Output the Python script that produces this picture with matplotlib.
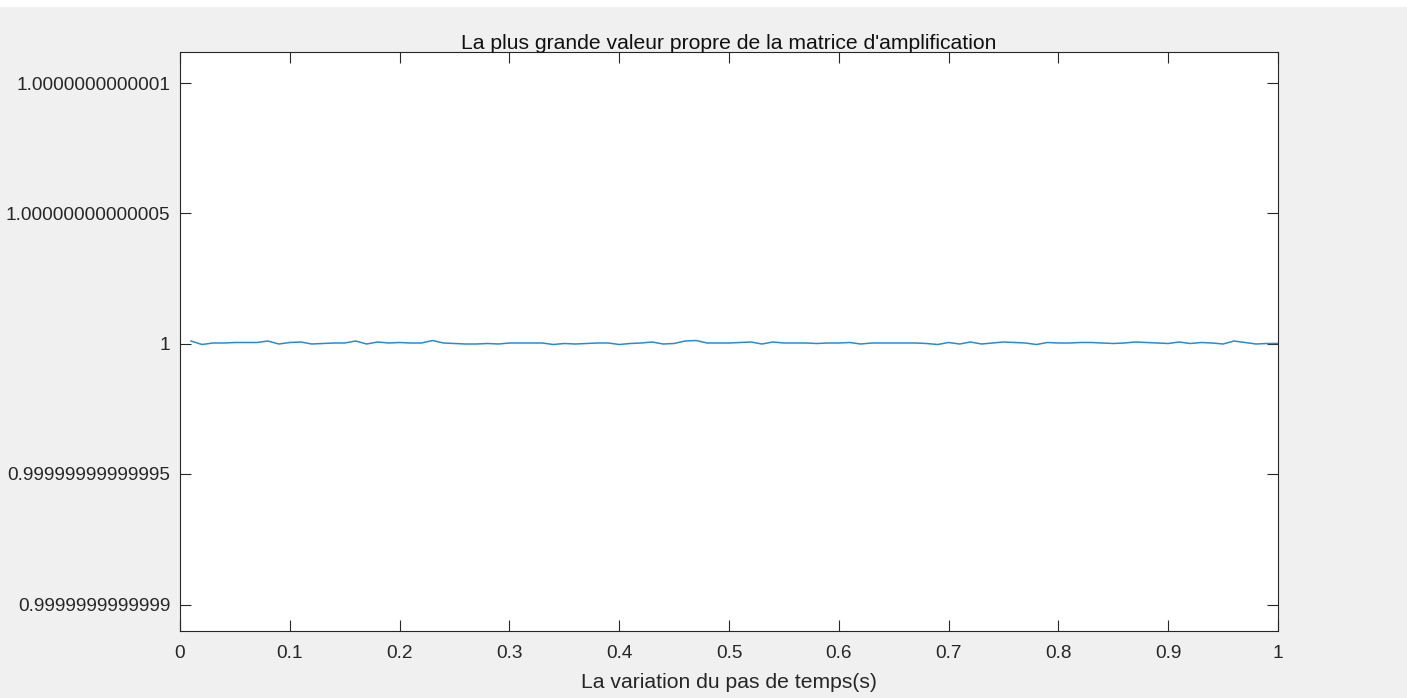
import matplotlib
matplotlib.use("Agg")
import matplotlib.pyplot as plt
from matplotlib.ticker import FixedLocator, FixedFormatter
from matplotlib.patches import Rectangle
import numpy as np

# Time step values (s)
time_steps = [round(0.01 * i, 2) for i in range(1, 101)]
# Deviation of the largest eigenvalue from 1, in units of 1e-16
deviation_e16 = [8, -3, 2, 3, 4, 5, 4, 8, -1, 5,
                 6, -2, 1, 3, 3, 8, -2, 6, 2, 5,
                 3, 3, 10, 2, 1, -2, -2, 1, -1, 3,
                 3, 2, 2, -3, 1, -1, 0, 2, 3, -3,
                 1, 2, 7, -2, 0, 8, 10, 3, 3, 2,
                 4, 7, -2, 7, 3, 3, 2, 0, 2, 2,
                 4, -1, 2, 2, 2, 2, 2, 1, -3, 5,
                 -2, 6, -2, 3, 6, 5, 3, -3, 5, 2,
                 3, 5, 4, 3, 1, 3, 6, 4, 3, 0,
                 6, 0, 5, 2, -1, 8, 5, -2, 0, 0]
max_eigenvalue = [1.0 + d * 1e-16 for d in deviation_e16]

y_ticks = [1 - 1e-13, 1 - 5e-14, 1.0, 1 + 5e-14, 1 + 1e-13]
y_tick_labels = ["0.9999999999999", "0.99999999999995", "1",
                 "1.00000000000005", "1.0000000000001"]
x_ticks = [0, 0.1, 0.2, 0.3, 0.4, 0.5, 0.6, 0.7, 0.8, 0.9, 1]
x_tick_labels = ["0", "0.1", "0.2", "0.3", "0.4", "0.5", "0.6", "0.7", "0.8", "0.9", "1"]

title_text = "La plus grande valeur propre de la matrice d'amplification"
xlabel_text = "La variation du pas de temps(s)"

plt.rcParams['font.family'] = ['Liberation Sans', 'DejaVu Sans']

W, H = 1407, 698
fig = plt.figure(figsize=(W / 100, H / 100), dpi=100, facecolor="#F0F0F0")
# thin white strip at the top of the window capture
fig.patches.append(Rectangle((0, 1 - 7 / H), 1, 7 / H, transform=fig.transFigure,
                             facecolor="white", edgecolor="none", zorder=-1))

ax = fig.add_axes([180 / W, 1 - 631 / H, (1278 - 180) / W, (631 - 52) / H])
ax.set_facecolor("white")
ax.plot(time_steps, max_eigenvalue, color="#2A8AD2", linewidth=1.1)

ax.set_xlim(0, 1)
ax.set_ylim(1 - 1.1e-13, 1 + 1.12e-13)
ax.yaxis.set_major_locator(FixedLocator(y_ticks))
ax.yaxis.set_major_formatter(FixedFormatter(y_tick_labels))
ax.xaxis.set_major_locator(FixedLocator(x_ticks))
ax.xaxis.set_major_formatter(FixedFormatter(x_tick_labels))

edge = "#262626"
for s in ax.spines.values():
    s.set_color(edge)
    s.set_linewidth(0.8)
ax.tick_params(axis="both", direction="in", length=8, width=0.8, color=edge,
               labelcolor=edge, labelsize=13.7, top=True, right=True)
ax.tick_params(axis="x", pad=10)
ax.tick_params(axis="y", pad=7)

ax.set_title(title_text, fontsize=15.2, color="#111111", pad=2)
ax.set_xlabel(xlabel_text, fontsize=15.2, color="#262626", labelpad=8)

fig.savefig("out.png", dpi=100, facecolor=fig.get_facecolor())
